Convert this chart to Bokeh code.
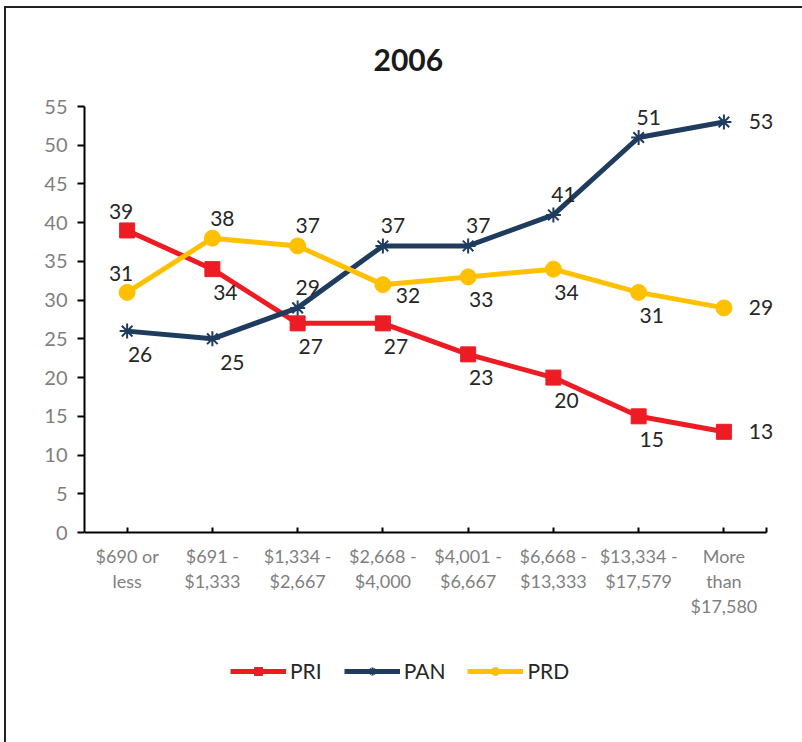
from bokeh.plotting import figure
from bokeh.models import Range1d, Legend, LegendItem, ColumnDataSource, LabelSet, FixedTicker
from bokeh.core.properties import value
from bokeh.embed import file_html
from bokeh.resources import INLINE

categories = ["$690 or\nless", "$691 -\n$1,333", "$1,334 -\n$2,667", "$2,668 -\n$4,000",
              "$4,001 -\n$6,667", "$6,668 -\n$13,333", "$13,334 -\n$17,579", "More\nthan\n$17,580"]
pri = [39, 34, 27, 27, 23, 20, 15, 13]
pan = [26, 25, 29, 37, 37, 41, 51, 53]
prd = [31, 38, 37, 32, 33, 34, 31, 29]
y_ticks = list(range(0, 56, 5))

# label placement codes
pri_pos = ["al", "b", "b", "b", "b", "b", "b", "r"]
pan_pos = ["b", "br", "a", "a", "a", "a", "a", "r"]
prd_pos = ["al", "a", "a", "rb", "b", "b", "b", "r"]
OFF = {"a": (10, 20), "al": (-6, 19), "b": (13, -23), "br": (20, -24), "rb": (25, -11), "r": (37, 0)}

FONT = "Lato"

n = len(categories)
xs = [i + 0.5 for i in range(n)]
Y_MAX = 55
# frame extends below the x axis so that the legend fits inside it
PX_PER_UNIT = 426 / Y_MAX
Y_MIN = -210 / PX_PER_UNIT

p = figure(x_range=Range1d(0, n + 0.375), y_range=Range1d(Y_MIN, Y_MAX),
           frame_width=714, frame_height=636,
           output_backend="svg", toolbar_location=None,
           min_border_left=78, min_border_right=4, min_border_top=98, min_border_bottom=0)
p.styles = {"border-left": "2px solid #222", "border-top": "2px solid #222",
            "margin-left": "4px", "margin-top": "6px"}

p.title.text = "2006"
p.title.align = "left"
p.title.text_font = FONT
p.title.text_font_size = "30px"
p.title.text_font_style = "bold"
p.title.text_color = "#1a1a1a"
p.title.offset = 289
p.title.standoff = 72

p.outline_line_color = None
p.xgrid.grid_line_color = None
p.ygrid.grid_line_color = None

p.yaxis.ticker = y_ticks
p.yaxis.bounds = (0, Y_MAX)
p.yaxis.axis_line_width = 2
p.yaxis.axis_line_color = "black"
p.yaxis.major_tick_line_width = 2
p.yaxis.major_tick_line_color = "black"
p.yaxis.major_tick_out = 7
p.yaxis.major_tick_in = 0
p.yaxis.minor_tick_line_color = None
p.yaxis.major_label_text_font = FONT
p.yaxis.major_label_text_font_size = "20px"
p.yaxis.major_label_text_color = "#7f7f7f"
p.yaxis.major_label_standoff = 10

p.xaxis.fixed_location = 0
p.xaxis.ticker = FixedTicker(ticks=xs + [n], minor_ticks=[])
p.xaxis.major_label_overrides = {**{x: c for x, c in zip(xs, categories)}, n: ""}
p.xaxis.bounds = (0, n)
p.xaxis.axis_line_width = 2
p.xaxis.axis_line_color = "black"
p.xaxis.major_tick_line_width = 2
p.xaxis.major_tick_line_color = "black"
p.xaxis.major_tick_in = 5
p.xaxis.major_tick_out = 0
p.xaxis.minor_tick_line_color = None
p.xaxis.major_label_text_font = FONT
p.xaxis.major_label_text_font_size = "18px"
p.xaxis.major_label_text_color = "#7f7f7f"
p.xaxis.major_label_text_line_height = 1.15
p.xaxis.major_label_standoff = 12

series = [
    ("PRI", pri, pri_pos, "#ED1C24", "square", 15),
    ("PAN", pan, pan_pos, "#1F3B5E", "asterisk", 15),
    ("PRD", prd, prd_pos, "#FFC000", "circle", 16),
]
items = []
for name, vals, pos, color, marker, size in series:
    src = ColumnDataSource(dict(x=xs, y=vals, t=[str(v) for v in vals],
                                dx=[OFF[c][0] for c in pos], dy=[OFF[c][1] for c in pos]))
    ln = p.line("x", "y", source=src, line_color=color, line_width=5)
    if marker == "asterisk":
        mk = p.scatter("x", "y", source=src, marker=marker, size=size, line_color=color,
                       line_width=2)
    else:
        mk = p.scatter("x", "y", source=src, marker=marker, size=size, fill_color=color,
                       line_color=color)
    labels = LabelSet(x="x", y="y", text="t", source=src, x_offset="dx", y_offset="dy",
                      text_font=value(FONT), text_font_size="21px", text_color="#262626",
                      text_align="center", text_baseline="middle")
    p.add_layout(labels)
    items.append(LegendItem(label=name, renderers=[ln, mk]))

legend = Legend(items=items, orientation="horizontal", location=(146, 59),
                glyph_width=56, glyph_height=20, label_text_font=FONT,
                label_text_font_size="21px", label_text_color="#262626",
                spacing=22, label_standoff=4, border_line_color=None,
                background_fill_alpha=0, margin=0, padding=10)
p.add_layout(legend)

open("out.html", "w").write(file_html(p, INLINE))
